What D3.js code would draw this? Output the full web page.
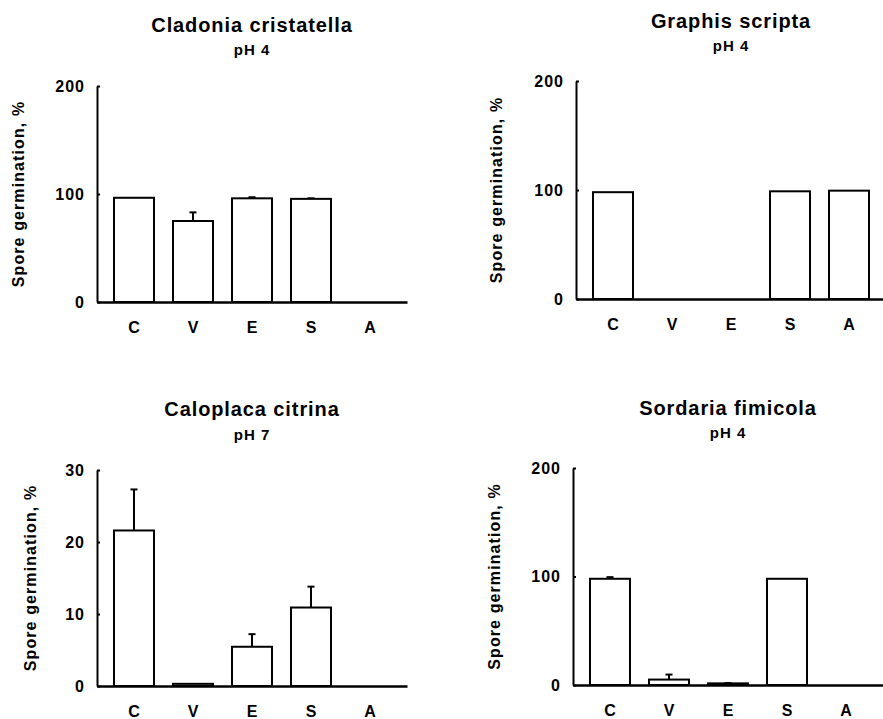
<!DOCTYPE html>
<html>
<head>
<meta charset="utf-8">
<script src="https://cdn.jsdelivr.net/npm/d3@7"></script>
<style>
    body { margin: 0; background: #fff; }
    svg { display: block; }
    text { font-family: "Liberation Sans", Arial, Helvetica, sans-serif; font-weight: bold; fill: #000; }
</style>
</head>
<body>
<div id="viz"></div>
<script>
// treatments on the x axis
var treatments = ["C", "V", "E", "S", "A"];

// one entry per panel
var species = ["Cladonia cristatella", "Graphis scripta", "Caloplaca citrina", "Sordaria fimicola"];
var phLabels = ["pH 4", "pH 4", "pH 7", "pH 4"];
var yMax = [200, 200, 30, 200];
var yTicks = [[0, 100, 200], [0, 100, 200], [0, 10, 20, 30], [0, 100, 200]];

// mean germination, %
var cladoniaValues = [96.5, 75, 96, 95.5, 0];
var graphisValues = [98, 0, 0, 98.8, 99.4];
var caloplacaValues = [21.6, 0.3, 5.45, 10.9, 0];
var sordariaValues = [97.9, 5, 1.5, 97.9, 0];

// upper error bars
var cladoniaErrors = [0, 8, 1, 0.5, 0];
var graphisErrors = [0, 0, 0, 0, 0];
var caloplacaErrors = [5.7, 0, 1.75, 2.9, 0];
var sordariaErrors = [1.5, 4.6, 0.3, 0, 0];

var allValues = [cladoniaValues, graphisValues, caloplacaValues, sordariaValues];
var allErrors = [cladoniaErrors, graphisErrors, caloplacaErrors, sordariaErrors];

// where each panel sits on the page
var layout = [
    {x0: 97, top: 86, bottom: 302, titleY: 32, phY: 55, labelOff: 79},
    {x0: 576, top: 81, bottom: 299, titleY: 28, phY: 51, labelOff: 80},
    {x0: 97, top: 470, bottom: 686, titleY: 416, phY: 440, labelOff: 67},
    {x0: 573, top: 468, bottom: 685, titleY: 415, phY: 438, labelOff: 79}
];

var axisWidth = 310;

var svg = d3.select("#viz").append("svg").attr("width", 883).attr("height", 719);

function drawPanel(p) {
    var L = layout[p];
    var g = svg.append("g");

    var x = d3.scaleBand()
        .domain(treatments)
        .range([L.x0, L.x0 + axisWidth])
        .paddingInner(19 / 59)
        .paddingOuter(0.288);

    var y = d3.scaleLinear()
        .domain([0, yMax[p]])
        .range([L.bottom, L.top]);

    var data = treatments.map(function (t, i) {
        return {t: t, v: allValues[p][i], e: allErrors[p][i]};
    });

    // error bars first so the bar top covers the base
    var withErr = data.filter(function (d) { return d.e > 0; });
    g.selectAll(".err")
        .data(withErr)
        .enter()
        .append("line")
        .attr("x1", function (d) { return x(d.t) + x.bandwidth() / 2; })
        .attr("x2", function (d) { return x(d.t) + x.bandwidth() / 2; })
        .attr("y1", function (d) { return y(d.v); })
        .attr("y2", function (d) { return y(d.v + d.e); })
        .attr("stroke", "#000")
        .attr("stroke-width", 2);
    g.selectAll(".cap")
        .data(withErr)
        .enter()
        .append("line")
        .attr("x1", function (d) { return x(d.t) + x.bandwidth() / 2 - 3.5; })
        .attr("x2", function (d) { return x(d.t) + x.bandwidth() / 2 + 3.5; })
        .attr("y1", function (d) { return y(d.v + d.e); })
        .attr("y2", function (d) { return y(d.v + d.e); })
        .attr("stroke", "#000")
        .attr("stroke-width", 2);

    g.selectAll(".bar")
        .data(data.filter(function (d) { return d.v > 0; }))
        .enter()
        .append("rect")
        .attr("x", function (d) { return x(d.t); })
        .attr("y", function (d) { return y(d.v); })
        .attr("width", x.bandwidth())
        .attr("height", function (d) { return L.bottom - y(d.v); })
        .style("fill", "#fff")
        .attr("stroke", "#000")
        .attr("stroke-width", 2);

    var yAxis = g.append("g")
        .attr("transform", "translate(" + L.x0 + ",0)")
        .call(d3.axisLeft(y).tickValues(yTicks[p]).tickSizeInner(-3).tickSizeOuter(0).tickPadding(12));
    yAxis.selectAll("text").style("font-size", "16px").style("letter-spacing", "1px")
        .attr("font-family", null);
    yAxis.selectAll("line").attr("stroke-width", 2);
    yAxis.select(".domain").attr("stroke-width", 2);

    var xAxis = g.append("g")
        .attr("transform", "translate(0," + L.bottom + ")")
        .call(d3.axisBottom(x).tickSize(0).tickPadding(20));
    xAxis.selectAll("text").style("font-size", "16px").attr("font-family", null);
    xAxis.select(".domain").attr("stroke-width", 2.5);

    var cx = L.x0 + axisWidth / 2;
    g.append("text")
        .attr("x", cx)
        .attr("y", L.titleY)
        .attr("text-anchor", "middle")
        .style("font-size", "20px")
        .style("letter-spacing", "0.9px")
        .text(species[p]);
    g.append("text")
        .attr("x", cx)
        .attr("y", L.phY)
        .attr("text-anchor", "middle")
        .style("font-size", "15px")
        .style("letter-spacing", "1px")
        .text(phLabels[p]);

    var lx = L.x0 - L.labelOff;
    var ly = (L.top + L.bottom) / 2;
    g.append("text")
        .attr("transform", "translate(" + lx + "," + ly + ") rotate(-90)")
        .attr("text-anchor", "middle")
        .attr("dy", "0.35em")
        .style("font-size", "16px")
        .style("letter-spacing", "1.1px")
        .text("Spore germination, %");
}

for (var p = 0; p < 4; p++) {
    drawPanel(p);
}
</script>
</body>
</html>
